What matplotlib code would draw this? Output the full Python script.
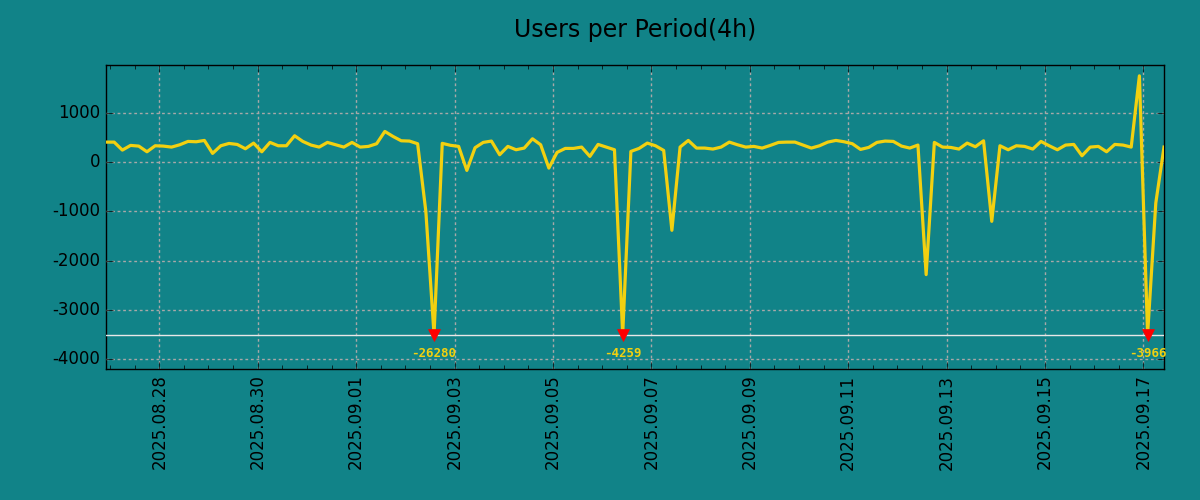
import numpy as np
import pandas as pd
import matplotlib
matplotlib.use("Agg")
import matplotlib.pyplot as plt
import matplotlib.dates as mdates
from matplotlib.ticker import FixedLocator, NullLocator

plt.style.use("classic")
plt.rcParams['axes.unicode_minus'] = False

# data: users per 4h period
start = "2025-08-26 22:00"
users = [405, 405, 243, 338, 324, 209, 331, 324, 304, 351,
         419, 412, 439, 176, 331, 378, 358, 270, 385, 209,
         399, 331, 331, 534, 419, 345, 304, 399, 351, 304,
         399, 304, 318, 372, 622, 520, 432, 426, 372, -1000,
         -26280, 380, 340, 318, -169, 291, 399, 426, 149, 318,
         250, 284, 473, 351, -122, 196, 277, 277, 304, 115,
         358, 304, 250, -4259, 216, 277, 385, 331, 236, -1385,
         304, 439, 284, 284, 264, 304, 405, 351, 304, 318,
         284, 338, 399, 405, 405, 345, 284, 331, 405, 439,
         412, 372, 257, 297, 399, 426, 419, 324, 284, 345,
         -2284, 399, 304, 297, 264, 385, 311, 432, -1203, 331,
         250, 331, 318, 264, 419, 331, 250, 345, 358, 128,
         304, 318, 209, 358, 345, 304, 1750, -3966, -830, 304]
clip_value = -3500
tick_dates = pd.date_range("2025-08-28", "2025-09-17", freq="2D")

dates = pd.date_range(start, periods=len(users), freq="4h")
users = np.array(users)
shown = np.clip(users, clip_value, None)

bg = '#118388'
yellow = '#f2d010'
fig = plt.figure(figsize=(12, 5), dpi=100, facecolor=bg)
ax = fig.add_axes([0.0883, 0.262, 0.8817, 0.608])
ax.set_facecolor(bg)

ax.plot(dates, shown, color=yellow, linewidth=2.3, zorder=3)
ax.axhline(clip_value, color='#e8e8e8', linewidth=1, zorder=4)

# mark clipped values
low = users < clip_value
ax.plot(dates[low], shown[low], linestyle='none', marker='v', markersize=8,
        color='red', markeredgecolor='red', zorder=5)
for d, v in zip(dates[low], users[low]):
    ax.annotate(str(v), (d, clip_value), xytext=(0, -14), textcoords='offset points',
                ha='center', va='center', color=yellow, fontsize=9,
                family='DejaVu Sans Mono', fontweight='bold', zorder=6)

ax.set_xlim(dates[0], dates[-1])
ax.set_ylim(-4200, 1970)
ax.set_yticks([1000, 0, -1000, -2000, -3000, -4000])

ax.xaxis.set_major_locator(FixedLocator(mdates.date2num(tick_dates)))
ax.xaxis.set_major_formatter(mdates.DateFormatter('%Y.%m.%d'))
ax.xaxis.set_minor_locator(mdates.HourLocator(byhour=[0, 12]))
ax.yaxis.set_minor_locator(NullLocator())
plt.setp(ax.get_xticklabels(), rotation=90)

ax.grid(True, color='#a8a8a8', linestyle=(0, (2, 2)), linewidth=1)
ax.tick_params(which='major', direction='in', length=5, labelsize=12, colors='black')
ax.tick_params(which='minor', direction='in', length=3)

ax.set_title("Users per Period(4h)", fontsize=17, pad=20)

fig.savefig("out.png", facecolor=bg)
